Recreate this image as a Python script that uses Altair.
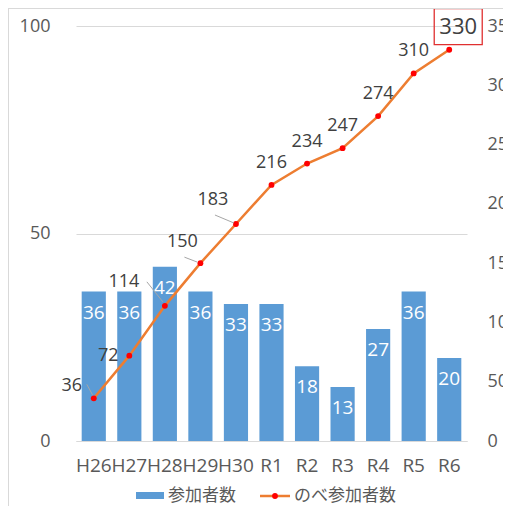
import altair as alt
import pandas as pd

years = ["H26", "H27", "H28", "H29", "H30", "R1", "R2", "R3", "R4", "R5", "R6"]
participants = [36, 36, 42, 36, 33, 33, 18, 13, 27, 36, 20]
cumulative = [36, 72, 114, 150, 183, 216, 234, 247, 274, 310, 330]
left_ticks = [0, 50, 100]
right_ticks = [0, 50, 100, 150, 200, 250, 300, 350]
legend_bar = "参加者数"
legend_line = "のべ参加者数"

df = pd.DataFrame({"year": years, "n": participants, "cum": cumulative})
one = pd.DataFrame({"k": [0]})

W, H = 391, 415
NUM_FONT = "Open Sans"
JP_FONT = "Noto Sans CJK JP"
BLUE = "#5B9BD5"
ORANGE = "#ED7D31"
RED = "#FF0000"
GRAY = "#595959"
GRID = "#D9D9D9"

x_enc = alt.X(
    "year:N", sort=years, title=None,
    scale=alt.Scale(paddingInner=0.32, paddingOuter=0.16),
    axis=alt.Axis(labelAngle=0, labelFont=NUM_FONT, labelFontSize=19, labelColor=GRAY,
                  ticks=False, domainColor=GRID, domainWidth=1, labelPadding=15),
)
y_left = alt.Y(
    "n:Q", title=None, scale=alt.Scale(domain=[0, 100]),
    axis=alt.Axis(values=left_ticks, grid=True, gridColor=GRID, domain=False, ticks=False,
                  labelPadding=26, labelFont=NUM_FONT, labelFontSize=18, labelColor=GRAY),
)
y_right = alt.Y(
    "cum:Q", title=None, scale=alt.Scale(domain=[0, 350]),
    axis=alt.Axis(orient="right", values=right_ticks, grid=False, domain=False, ticks=False,
                  labelPadding=20, labelFont=NUM_FONT, labelFontSize=18, labelColor=GRAY),
)

base = alt.Chart(df)

bars = base.mark_bar(color=BLUE).encode(x=x_enc, y=y_left)
bar_text = base.mark_text(color="white", font=NUM_FONT, fontSize=19, baseline="middle",
                          yOffset=21).encode(x=x_enc, y=y_left, text="n:Q")
bar_layer = alt.layer(bars, bar_text)

line = base.mark_line(color=ORANGE, strokeWidth=2.5).encode(x=x_enc, y=y_right)
pts = base.mark_point(filled=True, color=RED, size=34, opacity=1).encode(x=x_enc, y=y_right)

# label placement (offsets in px) per category
offsets = {
    "H26": (-22, -12), "H27": (-21, 0), "H28": (-41, -24), "H29": (-18, -21),
    "H30": (-23, -24), "R1": (0, -22), "R2": (0, -22), "R3": (0, -22),
    "R4": (0, -22), "R5": (0, -22),
}
# leader lines: (x from, y from, x to, y to) offsets from the point
leaders = {
    "H26": (-7, -14, -1, -3), "H28": (-18, -24, -2, -4),
    "H29": (-16, -6, -3, -1), "H30": (-21, -9, -2, -1),
}
label_layers = []
for yr, (dx, dy) in offsets.items():
    label_layers.append(
        base.transform_filter(alt.datum.year == yr)
        .mark_text(color="#404040", font=NUM_FONT, fontSize=18, baseline="middle",
                   xOffset=dx, yOffset=dy)
        .encode(x=x_enc, y=y_right, text="cum:Q")
    )
for yr, (x1, y1, x2, y2) in leaders.items():
    label_layers.append(
        base.transform_filter(alt.datum.year == yr)
        .mark_rule(color="#A6A6A6", strokeWidth=1, xOffset=x1, yOffset=y1,
                   x2Offset=x2, y2Offset=y2)
        .encode(x=x_enc, y=y_right, x2="year:N", y2="cum:Q")
    )
last_label = (base.transform_filter(alt.datum.year == "R6")
              .mark_text(color="#404040", font=NUM_FONT, fontSize=22, baseline="middle",
                         xOffset=9, yOffset=-23)
              .encode(x=x_enc, y=y_right, text="cum:Q"))
box = (base.transform_filter(alt.datum.year == "R6")
       .mark_point(shape="M-1,-0.75L1,-0.75L1,0.75L-1,0.75Z", size=2304, filled=False,
                   stroke="#E03030", strokeWidth=1.3, opacity=1, xOffset=9, yOffset=-23)
       .encode(x=x_enc, y=y_right))

line_layer = alt.layer(line, pts, *label_layers, last_label, box)

ob = alt.Chart(one)
LY = 470
legend = alt.layer(
    ob.mark_rect(color=BLUE).encode(x=alt.value(60), x2=alt.value(88), y=alt.value(LY - 4), y2=alt.value(LY + 3)),
    ob.mark_text(align="left", baseline="middle", font=JP_FONT, fontSize=17, color=GRAY)
      .encode(x=alt.value(92), y=alt.value(LY), text=alt.value(legend_bar)),
    ob.mark_rule(color=ORANGE, strokeWidth=2.5).encode(x=alt.value(184), x2=alt.value(214), y=alt.value(LY)),
    ob.mark_point(filled=True, color=RED, size=34, opacity=1).encode(x=alt.value(199), y=alt.value(LY)),
    ob.mark_text(align="left", baseline="middle", font=JP_FONT, fontSize=17, color=GRAY)
      .encode(x=alt.value(218), y=alt.value(LY), text=alt.value(legend_line)),
    ob.mark_rule(color=GRID, strokeWidth=1).encode(x=alt.value(-67.5), y=alt.value(-18), y2=alt.value(H + 65)),
    ob.mark_rule(color=GRID, strokeWidth=1).encode(x=alt.value(-68), x2=alt.value(W + 36), y=alt.value(-17.5)),
)

chart = (
    alt.layer(bar_layer, line_layer, legend)
    .resolve_scale(y="independent")
    .properties(width=W, height=H, autosize=alt.AutoSizeParams(type="none"),
                padding={"left": 68, "top": 18, "right": 36, "bottom": 65},
                background="white")
    .configure_view(stroke=None)
)

chart.save("out.html", embed_options={"renderer": "svg", "actions": False})
